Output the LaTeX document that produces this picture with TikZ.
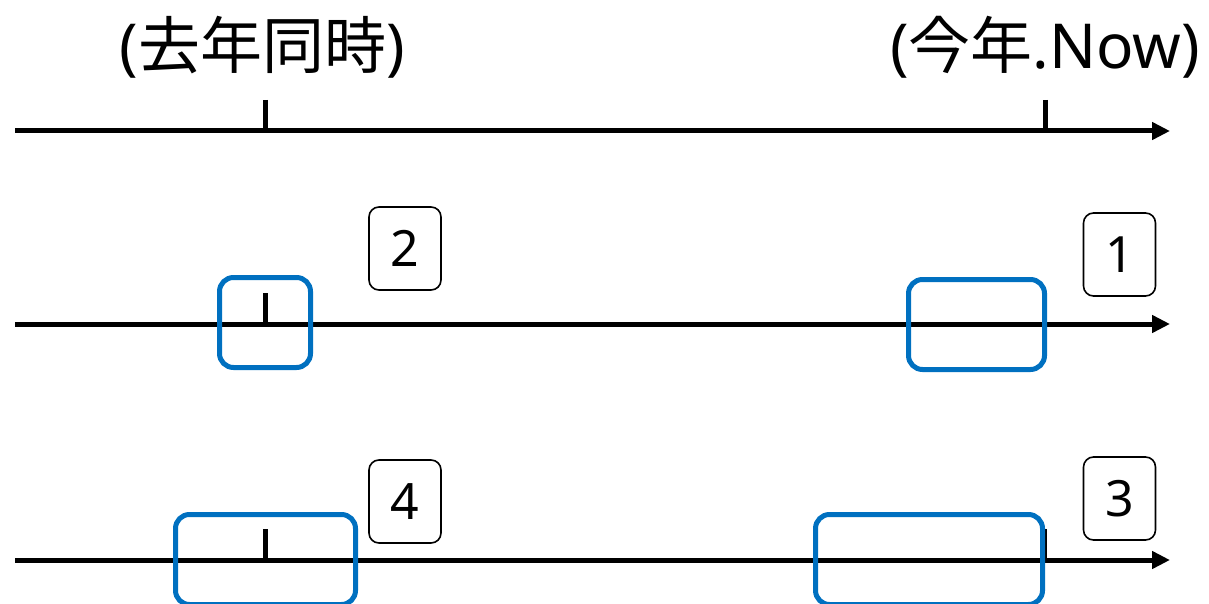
\documentclass[tikz,border=0pt]{standalone}
\usepackage{fontspec}
\setmainfont{Noto Sans}
\newfontfamily\cjk{Noto Sans CJK JP}
\newcommand\zhtxt[1]{{\cjk #1}}
\usetikzlibrary{arrows.meta}
\definecolor{boxblue}{HTML}{0070C0}
\begin{document}
\begin{tikzpicture}[x=1pt,y=-1pt,
  axis/.style={line width=5pt,-{Triangle[length=18pt,width=17pt]}},
  tick/.style={line width=5pt},
  hilite/.style={draw=boxblue,line width=5pt,rounded corners=14pt,inner sep=0pt,minimum height=90pt},
  numbox/.style={draw=black,line width=1.6pt,rounded corners=10pt,inner sep=0pt,minimum width=72pt,minimum height=83pt,font=\fontsize{50}{60}\selectfont},
  head/.style={inner sep=0pt,font=\fontsize{62}{70}\selectfont}]
\useasboundingbox (0,0) rectangle (1209,604);
% header labels
\node[head] (lastyear) at (262,47) {(\zhtxt{去年同時})};
\node[head] (thisyear) at (1045,47) {(\zhtxt{今年}.Now)};
% row 1
\coordinate (a1s) at (15,131);
\coordinate (a1e) at (1170,131);
\draw[axis] (a1s) -- (a1e);
\coordinate (t1a) at (265,100); \coordinate (t1ab) at (265,131);
\coordinate (t1b) at (1045,100); \coordinate (t1bb) at (1045,131);
\draw[tick] (t1a) -- (t1ab);
\draw[tick] (t1b) -- (t1bb);
% row 2
\coordinate (a2s) at (15,324);
\coordinate (a2e) at (1170,324);
\draw[axis] (a2s) -- (a2e);
\coordinate (t2a) at (265,293); \coordinate (t2ab) at (265,324);
\draw[tick] (t2a) -- (t2ab);
\node[hilite,minimum width=91pt] (b2a) at (265,322.5) {};
\node[hilite,minimum width=136pt] (b2b) at (976.5,324.5) {};
\node[numbox] (n2) at (405,248.5) {2};
\node[numbox] (n1) at (1119.5,254.5) {1};
% row 3
\coordinate (a3s) at (15,560);
\coordinate (a3e) at (1170,560);
\draw[axis] (a3s) -- (a3e);
\coordinate (t3a) at (265,529); \coordinate (t3ab) at (265,560);
\coordinate (t3b) at (1046,529); \coordinate (t3bb) at (1046,560);
\draw[tick] (t3a) -- (t3ab);
\draw[line width=2pt] (t3b) -- (t3bb);
\node[hilite,minimum width=180pt] (b3a) at (265.5,559.5) {};
\node[hilite,minimum width=227pt] (b3b) at (929,559.5) {};
\node[numbox] (n4) at (405,501.5) {4};
\node[numbox] (n3) at (1119.5,498.5) {3};
\end{tikzpicture}
\end{document}
